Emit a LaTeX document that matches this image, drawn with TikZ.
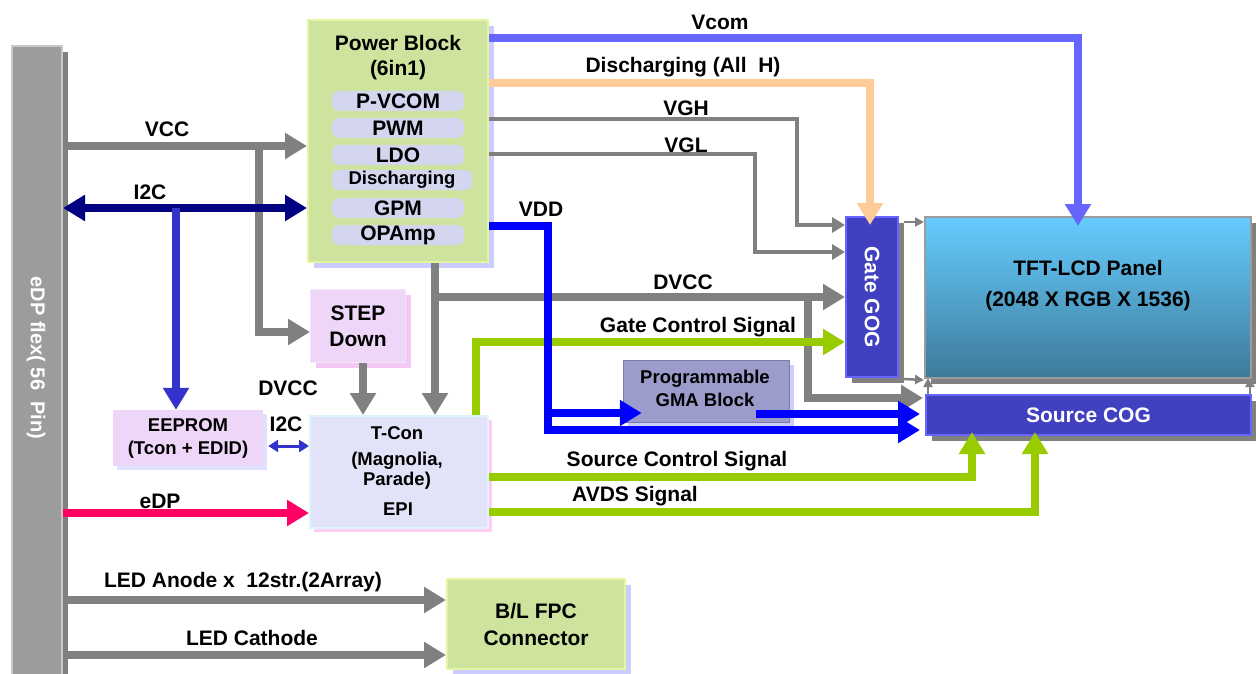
\documentclass[tikz,border=0pt]{standalone}
\usepackage{fontspec}
\setmainfont{Liberation Sans}
\usetikzlibrary{arrows.meta,shadows}
\definecolor{cgray}{HTML}{808080}
\definecolor{cnavy}{HTML}{000080}
\definecolor{cblue}{HTML}{0000FF}
\definecolor{cvcom}{HTML}{6666FF}
\definecolor{cpeach}{HTML}{FFCC99}
\definecolor{cgreen}{HTML}{99CC00}
\definecolor{cpink}{HTML}{FF0066}
\definecolor{cmid}{HTML}{3333CC}
\definecolor{cdark}{HTML}{4040C0}
\definecolor{cdarkb}{HTML}{6666FF}
\definecolor{cpb}{HTML}{CEE49E}
\definecolor{cpbb}{HTML}{E4F5A2}
\definecolor{crow}{HTML}{D4D6F0}
\definecolor{clav}{HTML}{CCCCFF}
\definecolor{cstep}{HTML}{EED6F8}
\definecolor{cstepsh}{HTML}{F4C8F4}
\definecolor{ctcon}{HTML}{E2E2F8}
\definecolor{ctconb}{HTML}{DDF4FA}
\definecolor{ctconsh}{HTML}{FFCCF4}
\definecolor{cgma}{HTML}{9C9CCC}
\definecolor{ctfttop}{HTML}{66CCFF}
\definecolor{ctftbot}{HTML}{3D7A99}
\definecolor{cflex}{HTML}{9C9C9C}
\definecolor{cflexb}{HTML}{C8C8C8}
\begin{document}
\begin{tikzpicture}[x=1pt,y=-1pt,
  font=\bfseries\fontsize{21}{24}\selectfont,
  sm/.style={font=\bfseries\fontsize{18.5}{22}\selectfont},
  abig/.style={-{Triangle[length=22pt,width=25pt]}},
  amid/.style={-{Triangle[length=13pt,width=15pt]}},
  atiny/.style={-{Triangle[length=9pt,width=9pt]}},
  wline/.style={line width=8pt},
  gline/.style={wline,draw=cgray},
  lbl/.style={inner sep=0pt},
  boxbase/.style={rectangle,inner sep=0pt,align=center},
  dshadow/.style={drop shadow={shadow xshift=6pt,shadow yshift=-6pt,fill=#1,opacity=1}},
  pbox/.style={boxbase,fill=cpb,draw=cpbb,line width=2pt,dshadow=clav},
  prow/.style={boxbase,fill=crow,rounded corners=7pt,minimum height=20pt},
  dbox/.style={boxbase,fill=cdark,draw=cdarkb,line width=2pt,text=white,dshadow=cgray}
]
\useasboundingbox (0,0) rectangle (1256,674);

% ---------- boxes ----------
\fill[cgray] (60,52) rectangle (68,680);
\node[boxbase,fill=cflex,draw=cflexb,line width=2pt,minimum width=50pt,minimum height=634pt] (flex) at (37,363) {};
\node[font=\bfseries\fontsize{20}{24}\selectfont,text=white,rotate=-90] (flextxt) at (36,358) {eDP flex( 56\ \ Pin)};

\node[pbox,minimum width=180pt,minimum height=242pt] (pb) at (398,141) {};
\node[lbl] (pbt1) at (398,43) {Power Block};
\node[lbl] (pbt2) at (398,70) {(6in1)};
\node[prow,minimum width=132pt] (r1) at (398,101) {P-VCOM};
\node[prow,minimum width=132pt] (r2) at (398,128) {PWM};
\node[prow,minimum width=132pt] (r3) at (398,155) {LDO};
\node[prow,minimum width=140pt,sm] (r4) at (402,180) {Discharging};
\node[prow,minimum width=132pt] (r5) at (398,208) {GPM};
\node[prow,minimum width=132pt] (r6) at (398,235) {OPAmp};

\node[boxbase,fill=cstep,draw=cstep!60!white,line width=1pt,drop shadow={shadow xshift=5pt,shadow yshift=-5pt,fill=cstepsh,opacity=1},minimum width=95pt,minimum height=73pt] (step) at (358,326) {STEP\\[2pt]Down};

\node[boxbase,sm,fill=cstep,drop shadow={shadow xshift=4pt,shadow yshift=-4pt,fill=clav!60!white,opacity=1},minimum width=150pt,minimum height=56pt] (eeprom) at (188,438) {EEPROM\\[1pt](Tcon + EDID)};

\node[boxbase,sm,fill=ctcon,draw=ctconb,line width=2pt,drop shadow={shadow xshift=4pt,shadow yshift=-4pt,fill=ctconsh,opacity=1},minimum width=178pt,minimum height=112pt] (tcon) at (399,472) {};
\node[sm,lbl] (tc1) at (397,433) {T-Con};
\node[sm,lbl,align=center] (tc2) at (397,471) {(Magnolia,\\[-2pt]Parade)};
\node[sm,lbl] (tc3) at (398,509) {EPI};

\node[boxbase,sm,fill=cgma,draw=cgma!80!black,line width=0.5pt,drop shadow={shadow xshift=5pt,shadow yshift=-5pt,fill=clav,opacity=1},minimum width=166pt,minimum height=62pt] (gma) at (706,391) {};
\node[sm,lbl,align=center] (gmat) at (705,388) {Programmable\\[1pt]GMA Block};

\node[dbox,minimum width=52pt,minimum height=160pt] (gog) at (872,297) {};
\node[text=white,rotate=-90] (gogt) at (872,297) {Gate GOG};

\node[boxbase,top color=ctfttop,bottom color=ctftbot,draw=cflex,line width=2pt,dshadow=cgray,minimum width=326pt,minimum height=161pt] (tft) at (1088,297.5) {};
\node[lbl,align=center] (tftt) at (1088,286) {TFT-LCD Panel\\[7pt](2048 X RGB X 1536)};

\node[dbox,minimum width=325pt,minimum height=40pt] (scog) at (1088.5,415) {Source COG};

\node[boxbase,fill=cpb,draw=cpbb,line width=2pt,dshadow=clav,minimum width=178pt,minimum height=90pt] (bl) at (536,624) {B/L FPC\\[3pt]Connector};

% ---------- connectors ----------
% VCC
\coordinate (vccj) at (259,146);
\draw[gline,abig] (flex.east |- 0,146) -- (pb.west |- 0,146);
\draw[gline,abig] (vccj) |- (step.west |- 0,332);
\node[lbl] (lvcc) at (167,129) {VCC};
% I2C
\coordinate (i2cj) at (176,208);
\draw[wline,cnavy,{Triangle[length=22pt,width=25pt]}-{Triangle[length=22pt,width=25pt]}] (flex.east |- 0,208) -- (pb.west |- 0,208);
\draw[wline,cmid,abig] (i2cj) -- (eeprom.north -| i2cj);
\node[lbl] (li2c) at (150,192) {I2C};
% small I2C
\draw[line width=3pt,cmid,{Triangle[length=10pt,width=12pt]}-{Triangle[length=10pt,width=12pt]}] ([xshift=5pt]eeprom.east |- 0,446) -- (tcon.west |- 0,446);
\node[lbl] (li2c2) at (286,424) {I2C};
\node[lbl] (ldvcc2) at (288,388) {DVCC};
% eDP
\draw[wline,cpink,abig] (flex.east |- 0,513) -- (tcon.west |- 0,513);
\node[lbl] (ledp) at (160,501) {eDP};
% LED
\draw[gline,abig] (flex.east |- 0,600) -- (bl.west |- 0,600);
\draw[gline,abig] (flex.east |- 0,655) -- (bl.west |- 0,655);
\node[lbl] (lan) at (243,582) {LED Anode x\ \ 12str.(2Array)};
\node[lbl] (lcat) at (252,638) {LED Cathode};
% step down -> tcon, pb -> tcon
\draw[gline,abig] (step.south -| 363,0) -- (tcon.north -| 363,0);
\coordinate (dvj) at (435,297);
\coordinate (dvk) at (808,297);
\draw[gline,abig] (pb.south -| dvj) -- (tcon.north -| dvj);
\draw[gline,abig] (dvj) -- (gog.west |- dvj);
\draw[gline,abig] (dvk) |- (900,398) -- ([xshift=-2pt,yshift=-4pt]scog.north west);
\node[lbl] (ldvcc) at (683,282) {DVCC};
% Gate control
\draw[wline,cgreen,abig] (tcon.north -| 476,0) |- (gog.west |- 0,342);
\node[lbl] (lgcs) at (698,327) {Gate Control Signal};
% Source control / AVDS
\draw[wline,cgreen,abig] (tcon.east |- 0,477) -| ([yshift=4pt]scog.south -| 972,0);
\draw[wline,cgreen,abig] (tcon.east |- 0,512) -| ([yshift=4pt]scog.south -| 1035,0);
\node[lbl] (lscs) at (677,461) {Source Control Signal};
\node[lbl] (lavds) at (635,496) {AVDS Signal};
% VDD
\coordinate (vddj) at (548,413);
\draw[wline,cblue,abig] (pb.east |- 0,226) -| (548,430) -- ([xshift=-5pt]scog.west |- 0,430);
\draw[wline,cblue,abig] (vddj) -- ([xshift=19pt]gma.west |- vddj);
\draw[wline,cblue,abig] ([xshift=-33pt]gma.east |- 0,414) -- ([xshift=-5pt]scog.west |- 0,414);
\node[lbl] (lvdd) at (541,209) {VDD};
% Vcom
\draw[wline,cvcom,abig] (pb.east |- 0,38) -| ([yshift=-10pt]tft.north -| 1078,0);
\node[lbl] (lvcom) at (720,22) {Vcom};
% Discharging
\draw[wline,cpeach,abig] (pb.east |- 0,83) -| ([yshift=-9pt]gog.north -| 870,0);
\node[lbl] (ldis) at (683,67) {Discharging (All\ \ H)};
% VGH / VGL
\draw[line width=4pt,cgray,amid] (pb.east |- 0,119) -| (797,225) -- (gog.west |- 0,225);
\draw[line width=4pt,cgray,amid] (pb.east |- 0,154) -| (755,252) -- (gog.west |- 0,252);
\node[lbl] (lvgh) at (686,108) {VGH};
\node[lbl] (lvgl) at (686,145) {VGL};
% small gray arrows
\draw[line width=2.5pt,cgray,atiny] (904,222) -- (tft.west |- 0,222);
\draw[line width=2.5pt,cgray,atiny] (904,379) -- ([yshift=-1pt]tft.south west);
\draw[line width=2.5pt,cgray,atiny] (scog.north -| 928,0) -- ([yshift=1pt]tft.south -| 928,0);
\draw[line width=2.5pt,cgray,atiny] (scog.north -| 1250,0) -- ([yshift=1pt]tft.south -| 1250,0);
\end{tikzpicture}
\end{document}
